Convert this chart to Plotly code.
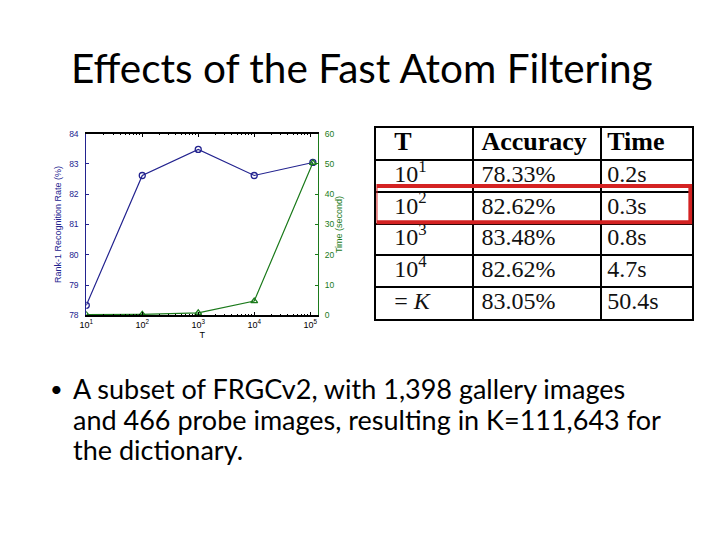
import plotly.graph_objects as go

# data
t_vals = [10, 100, 1000, 10000, 111643]
accuracy = [78.33, 82.62, 83.48, 82.62, 83.05]
time_sec = [0.2, 0.3, 0.8, 4.7, 50.4]

x_tickvals = [10, 100, 1000, 10000, 100000]
x_ticktext = ['10<sup>1</sup>', '10<sup>2</sup>', '10<sup>3</sup>', '10<sup>4</sup>', '10<sup>5</sup>']

table_header = ['<b>T</b>', '<b>Accuracy</b>', '<b>Time</b>']
table_T = ['10<sup>1</sup>', '10<sup>2</sup>', '10<sup>3</sup>', '10<sup>4</sup>', '= <i>K</i>']
table_acc = ['78.33%', '82.62%', '83.48%', '82.62%', '83.05%']
table_time = ['0.2s', '0.3s', '0.8s', '4.7s', '50.4s']

bullet_lines = ['A subset of FRGCv2, with 1,398 gallery images',
                'and 466 probe images, resulting in K=111,643 for',
                'the dictionary.']

W, H = 720, 540
OFF = 8  # page body margin
BLUE = '#23238f'
GREEN = '#1b7a1b'


def px(x):
    return (x - OFF) / W


def py(y):
    return 1 - (y - OFF) / H


fig = go.Figure()

fig.add_trace(go.Scatter(x=t_vals, y=accuracy, mode='lines+markers', name='Accuracy',
                         line=dict(color=BLUE, width=1.2),
                         marker=dict(symbol='circle-open', size=6, color=BLUE, line=dict(width=1.3)),
                         yaxis='y', xaxis='x'))
fig.add_trace(go.Scatter(x=t_vals, y=time_sec, mode='lines+markers', name='Time',
                         line=dict(color=GREEN, width=1.2),
                         marker=dict(symbol='triangle-up-open', size=6, color=GREEN, line=dict(width=1.3)),
                         yaxis='y2', xaxis='x'))

# table drawn on its own axes: columns in pixel units, rows as index
col_left = [0, 97, 227]
col_pad = [18, 9, 6]
n_rows = len(table_acc) + 1
columns = [[table_header[i]] + vals for i, vals in enumerate([table_T, table_acc, table_time])]
for ci, col in enumerate(columns):
    fig.add_trace(go.Scatter(
        x=[col_left[ci] + col_pad[ci]], y=[0.5], mode='text', text=[col[0]],
        textposition='middle right', hoverinfo='skip',
        textfont=dict(family='Liberation Serif', size=26, color='black'),
        xaxis='x3', yaxis='y3'))
    fig.add_trace(go.Scatter(
        x=[col_left[ci] + col_pad[ci]] * (n_rows - 1), y=[r + 0.5 for r in range(1, n_rows)],
        mode='text', text=col[1:], textposition='middle right', hoverinfo='skip',
        textfont=dict(family='Liberation Serif', size=24, color='#111111'),
        xaxis='x3', yaxis='y3'))

fig.update_layout(
    width=W, height=H, margin=dict(l=0, r=0, t=0, b=0),
    paper_bgcolor='white', plot_bgcolor='white', showlegend=False,
    font=dict(family='Liberation Sans', size=8, color='black'),
    xaxis=dict(type='log', range=[1, 5.14], domain=[px(80), px(314)], anchor='y',
               tickvals=x_tickvals, ticktext=x_ticktext, ticks='inside', ticklen=4,
               tickcolor='black', showline=True, linecolor='black', linewidth=1.5, mirror='ticks',
               showgrid=False, zeroline=False,
               minor=dict(ticks='inside', ticklen=2, tickcolor='black', showgrid=False, dtick='D1'),
               title=dict(text='T', font=dict(size=9, color='black'), standoff=0),
               tickfont=dict(size=9, color='black')),
    yaxis=dict(range=[78, 84], dtick=1, domain=[py(316), py(131)], anchor='x',
               ticks='inside', ticklen=3, tickcolor=BLUE, showline=True, linecolor=BLUE,
               linewidth=1, showgrid=False, zeroline=False, ticklabelstandoff=5,
               tickfont=dict(size=8.5, color=BLUE),
               title=dict(text='Rank-1 Recognition Rate (%)', font=dict(size=9, color=BLUE), standoff=5)),
    yaxis2=dict(range=[0, 60], dtick=10, overlaying='y', side='right', anchor='x',
                ticks='inside', ticklen=3, tickcolor=GREEN, showline=True, linecolor=GREEN,
                linewidth=1, showgrid=False, zeroline=False, ticklabelstandoff=4,
                tickfont=dict(size=8.5, color=GREEN),
                title=dict(text='Time (second)', font=dict(size=9, color=GREEN), standoff=1)),
    xaxis3=dict(range=[0, 319], domain=[px(373), px(692)], anchor='y3',
                tickvals=col_left[1:], showgrid=True, gridcolor='black', gridwidth=2,
                showticklabels=False, ticks='', zeroline=False,
                showline=True, linecolor='black', linewidth=2, mirror=True),
    yaxis3=dict(range=[n_rows, 0], domain=[py(320), py(125)], anchor='x3',
                tickvals=list(range(1, n_rows)), showgrid=True, gridcolor='black', gridwidth=2,
                showticklabels=False, ticks='', zeroline=False,
                showline=True, linecolor='black', linewidth=2, mirror=True),
)

# red highlight around the 10^2 row
fig.add_shape(type='rect', xref='x3', yref='y3', x0=-1, x1=317, y0=1.82, y1=2.96,
              line=dict(color='#d42222', width=4), fillcolor='rgba(0,0,0,0)')

fig.add_annotation(text='Effects of the Fast Atom Filtering', x=px(358), y=py(64),
                   xref='paper', yref='paper', xanchor='center', yanchor='middle', showarrow=False,
                   font=dict(family='Lato', size=40.5, color='black'))

fig.add_annotation(text='•', x=px(50), y=py(391), xref='paper', yref='paper',
                   xanchor='center', yanchor='middle', showarrow=False,
                   font=dict(family='Lato', size=22, color='black'))
for i, line in enumerate(bullet_lines):
    fig.add_annotation(text=line, x=px(65), y=py(391 + 31 * i), xref='paper', yref='paper',
                       xanchor='left', yanchor='middle', align='left', showarrow=False,
                       font=dict(family='Lato', size=27, color='black'))

fig.write_html("out.html")
